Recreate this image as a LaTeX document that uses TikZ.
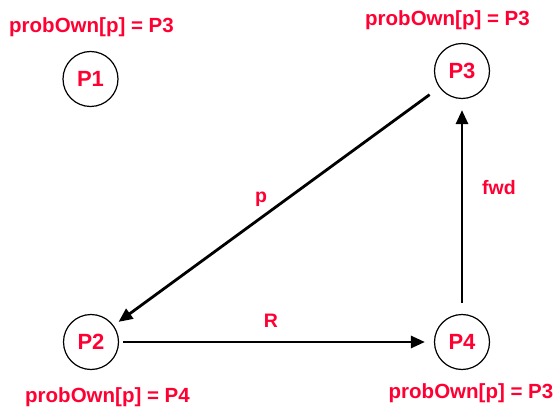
\documentclass[tikz,border=0pt]{standalone}
\usepackage{fontspec}
\setmainfont{Liberation Sans}
\usepackage{xcolor}
\usetikzlibrary{arrows.meta, positioning}
\definecolor{OwnRed}{HTML}{FF0033}
\definecolor{Ink}{HTML}{000000}

\begin{document}
\begin{tikzpicture}[x=1pt,y=-1pt,font=\bfseries,proc/.style={circle, draw=Ink, line width=1.2pt, minimum size=55pt, inner sep=0pt, text=OwnRed, font=\bfseries\fontsize{22}{26}\selectfont},ownlabel/.style={text=OwnRed, anchor=base, inner sep=0pt, font=\bfseries\fontsize{20.5}{24}\selectfont},msg/.style={-{Triangle[length=14pt,width=12pt]}, line width=2.8pt, draw=Ink},msglabel/.style={text=OwnRed, anchor=base, inner sep=0pt, font=\bfseries\fontsize{19.5}{22}\selectfont}]
\useasboundingbox (0,0) rectangle (558,412);
\node[proc] (P1) at (90.5,79) {P1};
\node[proc] (P3) at (462,71) {P3};
\node[proc] (P2) at (91,342) {P2};
\node[proc] (P4) at (462,342) {P4};
\node[ownlabel] (own1) at (91.5,33) {probOwn[p] = P3};
\node[ownlabel] (own3) at (447.5,26) {probOwn[p] = P3};
\node[ownlabel] (own2) at (107.5,402) {probOwn[p] = P4};
\node[ownlabel] (own4) at (471,398) {probOwn[p] = P3};
\draw[msg, shorten <=12pt, shorten >=6pt] (P3) -- (P2);
\draw[msg, shorten <=4pt, shorten >=9pt] (P2) -- (P4);
\draw[msg, shorten <=11pt, shorten >=11pt] (P4) -- (P3);
\node[msglabel] (lp) at (261,203) {p};
\node[msglabel] (lR) at (271,327) {R};
\node[msglabel] (lfwd) at (499,195) {fwd};
\end{tikzpicture}
\end{document}
